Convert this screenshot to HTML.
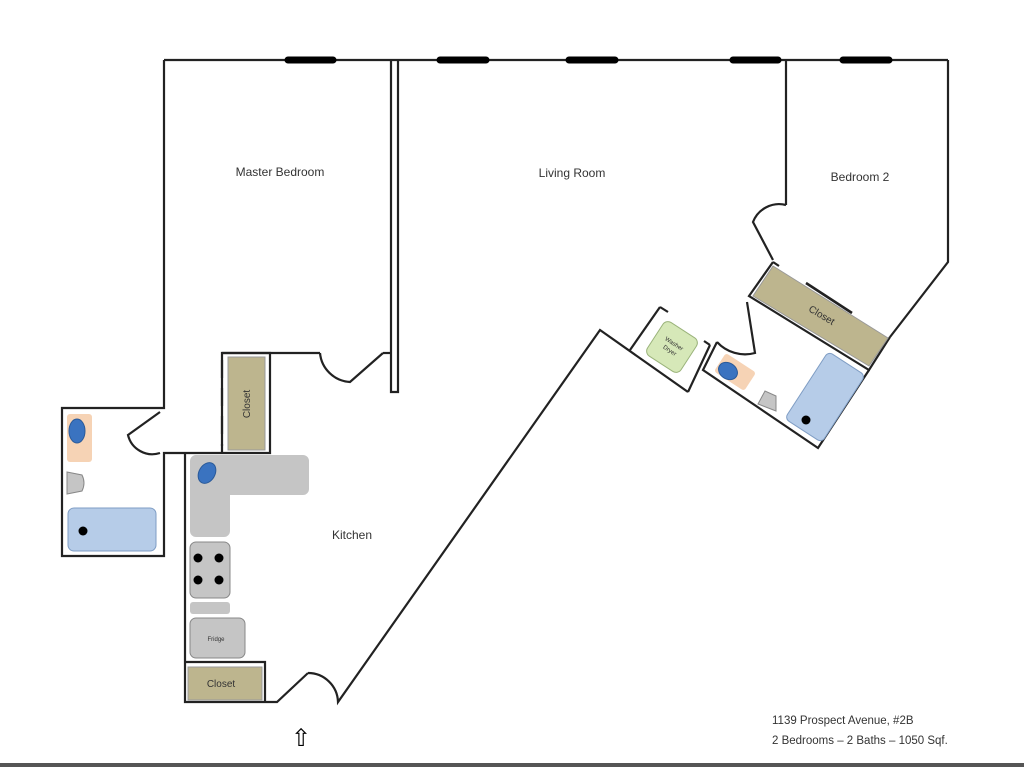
<!DOCTYPE html>
<html><head><meta charset="utf-8"><style>
html,body{margin:0;padding:0;background:#fff;width:1024px;height:767px;overflow:hidden}
svg{display:block}
text{font-family:"Liberation Sans",sans-serif;fill:#333}
</style></head><body>
<svg width="1024" height="767" viewBox="0 0 1024 767" xmlns="http://www.w3.org/2000/svg">
<g fill="none" stroke="#222" stroke-width="2.2" stroke-linejoin="miter">
<!-- top wall -->
<line x1="164" y1="60" x2="948" y2="60"/>
<!-- master bedroom -->
<polyline points="164,60 164,408 62,408 62,556 164,556 164,453 270,453 270,353 222,353 222,453"/>
<line x1="222" y1="353" x2="320" y2="353"/>
<polyline points="391,60 391,392 398,392 398,60"/>
<line x1="383" y1="353" x2="391" y2="353"/>
<!-- master door -->
<path d="M320,353 A32,32 0 0 0 350,382 L383,353"/>
<!-- bath door -->
<path d="M160,412 L128,435 A25,25 0 0 0 160,453"/>
<!-- kitchen -->
<polyline points="185,453 185,702 277,702 308,673"/>
<path d="M308,673 A30,30 0 0 1 338,702 L600,330 L688,392"/>
<polyline points="185,662 265,662 265,702"/>
<!-- washer -->
<polyline points="630,350 660,307"/>
<polyline points="688,392 710,345"/>
<line x1="660" y1="307" x2="668" y2="312"/>
<line x1="710" y1="345" x2="704" y2="341"/>
<!-- bedroom2 -->
<polyline points="786,60 786,205"/>
<path d="M786,205 A28,28 0 0 0 753,222 L773,260"/>
<polyline points="948,60 948,262 890,337"/>
<!-- closet & bath -->
<polyline points="773,262 749,296 869,370 890,337"/>
<line x1="773" y1="262" x2="779" y2="266"/>
<line x1="806" y1="283" x2="852" y2="313" stroke-width="2.6"/>
<polyline points="717,342 703,370 818,448 869,370"/>
<path d="M717,342 A38,38 0 0 0 755,353 L747,302"/>
</g>
<!-- dashed closet door -->
<line x1="222" y1="360" x2="222" y2="446" stroke="#222" stroke-width="2.2" stroke-dasharray="18,10"/>
<!-- windows -->
<g stroke="#000" stroke-width="7" stroke-linecap="round">
<line x1="288" y1="60" x2="333" y2="60"/><line x1="440" y1="60" x2="486" y2="60"/>
<line x1="569" y1="60" x2="615" y2="60"/><line x1="733" y1="60" x2="778" y2="60"/>
<line x1="843" y1="60" x2="889" y2="60"/>
</g>
<!-- closets -->
<rect x="228" y="357" width="37" height="93" fill="#bdb58e" stroke="#999" stroke-width="1"/>
<text transform="translate(250,404) rotate(-90)" font-size="10" text-anchor="middle">Closet</text>
<rect x="188" y="667" width="74" height="33" fill="#bdb58e" stroke="#999" stroke-width="1"/>
<text x="221" y="687" font-size="10" text-anchor="middle">Closet</text>
<polygon points="773,266 753,296 869,366 888,338" fill="#bdb58e" stroke="#999" stroke-width="1"/>
<text transform="translate(820,318) rotate(31)" font-size="10" text-anchor="middle">Closet</text>
<!-- kitchen fixtures -->
<path d="M195,455 H303 a6,6 0 0 1 6,6 V489 a6,6 0 0 1 -6,6 H230 V531 a6,6 0 0 1 -6,6 H196 a6,6 0 0 1 -6,-6 V461 a6,6 0 0 1 5,-6z" fill="#c5c5c5"/>
<ellipse cx="207" cy="473" rx="8" ry="11" transform="rotate(30 207 473)" fill="#3a73c0" stroke="#2a5a99"/>
<rect x="190" y="542" width="40" height="56" rx="6" fill="#c5c5c5" stroke="#888"/>
<circle cx="198" cy="558" r="4.5"/><circle cx="219" cy="558" r="4.5"/>
<circle cx="198" cy="580" r="4.5"/><circle cx="219" cy="580" r="4.5"/>
<rect x="190" y="602" width="40" height="12" rx="3" fill="#c5c5c5"/>
<rect x="190" y="618" width="55" height="40" rx="6" fill="#c5c5c5" stroke="#888"/>
<text x="216" y="641" font-size="6" text-anchor="middle">Fridge</text>
<!-- left bath fixtures -->
<rect x="67" y="414" width="25" height="48" rx="3" fill="#f6d3b5"/>
<ellipse cx="77" cy="431" rx="8" ry="12" fill="#3a73c0" stroke="#2a5a99"/>
<path d="M67,472 L82,475 Q86,483 82,491 L67,494z" fill="#c5c5c5" stroke="#888"/>
<rect x="68" y="508" width="88" height="43" rx="6" fill="#b6cce8" stroke="#7f9dc4"/>
<circle cx="83" cy="531" r="4.5"/>
<!-- right bath fixtures -->
<g transform="translate(825,397) rotate(33)"><rect x="-22" y="-40" width="44" height="80" rx="5" fill="#b6cce8" stroke="#7f9dc4"/></g>
<circle cx="806" cy="420" r="4.5"/>
<g transform="translate(735,372) rotate(33)"><rect x="-18" y="-11" width="36" height="22" rx="3" fill="#f6d3b5"/></g>
<ellipse cx="728" cy="371" rx="10" ry="8" transform="rotate(33 728 371)" fill="#3a73c0" stroke="#2a5a99"/>
<polygon points="758,404 765,391 776,396 776,411" fill="#c5c5c5" stroke="#888"/>
<!-- washer -->
<g transform="translate(672,347) rotate(33)"><rect x="-20" y="-20" width="40" height="40" rx="6" fill="#d6e8b8" stroke="#9ab37a"/>
<text x="0" y="-2" font-size="6" text-anchor="middle">Washer</text><text x="0" y="6" font-size="6" text-anchor="middle">Dryer</text></g>
<!-- labels -->
<text x="280" y="176" font-size="12" text-anchor="middle">Master Bedroom</text>
<text x="572" y="177" font-size="12" text-anchor="middle">Living Room</text>
<text x="860" y="181" font-size="12" text-anchor="middle">Bedroom 2</text>
<text x="352" y="539" font-size="12" text-anchor="middle">Kitchen</text>
<text x="772" y="724" font-size="11.5">1139 Prospect Avenue, #2B</text>
<text x="772" y="744" font-size="11.5">2 Bedrooms – 2 Baths – 1050 Sqf.</text>
<text x="301" y="746" font-size="24" text-anchor="middle" style="fill:#000">⇧</text>
<rect x="0" y="763" width="1024" height="4" fill="#555"/>
</svg>
</body></html>
